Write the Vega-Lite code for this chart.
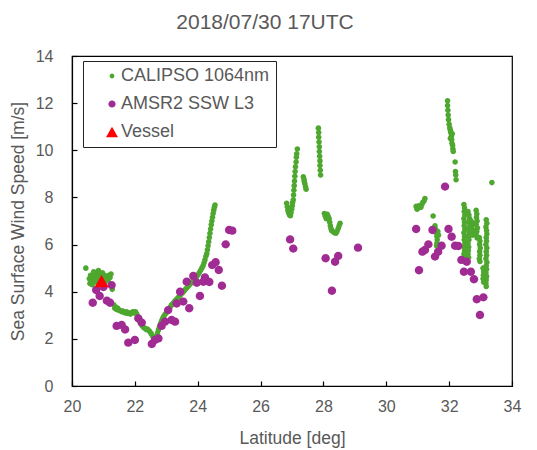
{
  "$schema": "https://vega.github.io/schema/vega-lite/v6.json",
  "width": 440,
  "height": 330,
  "autosize": {"type": "none"},
  "padding": {"left": 72, "top": 56, "right": 25, "bottom": 64},
  "background": "white",
  "title": {"text": "2018/07/30 17UTC", "fontSize": 21, "font": "Liberation Sans", "fontWeight": "normal", "color": "#595959", "frame": "bounds", "anchor": "middle", "offset": 15},
  "config": {
    "font": "Liberation Sans",
    "view": {"stroke": "#000", "strokeWidth": 1.2},
    "axis": {"grid": false, "labelFlush": false, "domainColor": "#000", "domainWidth": 1.2, "tickColor": "#000", "tickSize": -5, "tickWidth": 1.2, "labelFont": "Liberation Sans", "labelFontSize": 16, "labelColor": "#595959", "titleFont": "Liberation Sans", "titleFontSize": 17.5, "titleColor": "#595959", "titleFontWeight": "normal"},
    "legend": {"orient": "none", "legendX": 11, "legendY": 5, "strokeColor": "#222", "fillColor": "white", "padding": 6, "labelFont": "Liberation Sans", "labelFontSize": 18, "labelColor": "#595959", "rowPadding": 10, "symbolSize": 144, "symbolOffset": 14, "labelOffset": 0, "symbolStrokeWidth": 0}
  },
  "layer": [
    {
      "data": {"values": [
        {"x":20.44,"y":5.0},{"x":20.55,"y":4.55},{"x":20.57,"y":4.35},{"x":20.59,"y":4.7},{"x":20.62,"y":4.5},{"x":20.64,"y":4.3},{"x":20.67,"y":4.65},{"x":20.69,"y":4.85},{"x":20.72,"y":4.5},{"x":20.74,"y":4.7},{"x":20.77,"y":4.4},{"x":20.79,"y":4.8},{"x":20.82,"y":4.6},{"x":20.84,"y":4.9},{"x":20.87,"y":4.7},{"x":20.89,"y":4.45},{"x":20.92,"y":4.75},{"x":20.95,"y":4.6},{"x":20.97,"y":4.8},{"x":21.0,"y":4.5},{"x":21.03,"y":4.7},{"x":21.06,"y":4.55},{"x":21.09,"y":4.45},{"x":21.12,"y":4.65},{"x":21.15,"y":4.5},{"x":21.18,"y":4.7},{"x":21.21,"y":4.6},{"x":21.24,"y":4.75},{"x":21.28,"y":4.1},
        {"x":21.33,"y":3.45},{"x":21.36,"y":3.3},{"x":21.39,"y":3.35},{"x":21.42,"y":3.25},{"x":21.46,"y":3.3},{"x":21.5,"y":3.2},{"x":21.54,"y":3.2},{"x":21.58,"y":3.15},{"x":21.62,"y":3.18},{"x":21.66,"y":3.12},{"x":21.7,"y":3.1},{"x":21.74,"y":3.15},{"x":21.78,"y":3.08},{"x":21.82,"y":3.1},{"x":21.86,"y":3.05},{"x":21.9,"y":3.12},{"x":21.94,"y":3.15},{"x":21.98,"y":3.1},{"x":22.02,"y":3.15},{"x":22.06,"y":3.05},{"x":22.09,"y":2.92},{"x":22.12,"y":2.8},{"x":22.16,"y":2.72},{"x":22.2,"y":2.62},{"x":22.24,"y":2.55},{"x":22.28,"y":2.48},{"x":22.32,"y":2.45},{"x":22.36,"y":2.4},{"x":22.4,"y":2.42},{"x":22.44,"y":2.35},{"x":22.48,"y":2.3},{"x":22.52,"y":2.22},{"x":22.56,"y":2.12},{"x":22.6,"y":2.02},{"x":22.63,"y":1.95},{"x":22.66,"y":2.0},
        {"x":22.69,"y":2.12},{"x":22.72,"y":2.25},{"x":22.75,"y":2.38},{"x":22.78,"y":2.5},{"x":22.81,"y":2.62},{"x":22.84,"y":2.72},{"x":22.87,"y":2.82},{"x":22.9,"y":2.9},{"x":22.93,"y":2.98},{"x":22.97,"y":3.05},{"x":23.01,"y":3.12},{"x":23.05,"y":3.2},{"x":23.09,"y":3.28},{"x":23.13,"y":3.36},{"x":23.17,"y":3.44},{"x":23.21,"y":3.5},{"x":23.25,"y":3.56},{"x":23.29,"y":3.62},{"x":23.33,"y":3.68},{"x":23.37,"y":3.74},{"x":23.41,"y":3.8},{"x":23.45,"y":3.86},{"x":23.49,"y":3.92},{"x":23.53,"y":3.98},{"x":23.57,"y":4.04},{"x":23.61,"y":4.1},{"x":23.65,"y":4.16},{"x":23.69,"y":4.22},{"x":23.73,"y":4.28},{"x":23.77,"y":4.34},{"x":23.81,"y":4.4},{"x":23.85,"y":4.46},{"x":23.89,"y":4.52},{"x":23.93,"y":4.58},{"x":23.97,"y":4.65},{"x":24.01,"y":4.72},{"x":24.05,"y":4.8},{"x":24.09,"y":4.9},{"x":24.13,"y":5.0},{"x":24.17,"y":5.1},{"x":24.2,"y":5.22},{"x":24.23,"y":5.35},{"x":24.26,"y":5.5},{"x":24.29,"y":5.62},{"x":24.31,"y":5.78},{"x":24.33,"y":5.95},{"x":24.35,"y":6.12},{"x":24.37,"y":6.3},{"x":24.39,"y":6.48},{"x":24.41,"y":6.66},{"x":24.43,"y":6.84},{"x":24.45,"y":7.0},{"x":24.47,"y":7.16},{"x":24.49,"y":7.32},{"x":24.51,"y":7.46},{"x":24.53,"y":7.58},{"x":24.55,"y":7.68},
        {"x":26.83,"y":7.75},{"x":26.85,"y":7.6},{"x":26.87,"y":7.45},{"x":26.89,"y":7.35},{"x":26.92,"y":7.25},{"x":26.95,"y":7.22},{"x":26.97,"y":7.35},{"x":26.99,"y":7.5},{"x":27.01,"y":7.65},{"x":27.02,"y":7.78},
        {"x":27.04,"y":7.9},{"x":27.05,"y":8.1},{"x":27.06,"y":8.3},{"x":27.07,"y":8.5},{"x":27.08,"y":8.7},{"x":27.09,"y":8.9},{"x":27.1,"y":9.1},{"x":27.11,"y":9.3},{"x":27.13,"y":9.5},{"x":27.14,"y":9.7},{"x":27.15,"y":9.85},{"x":27.17,"y":10.05},
        {"x":27.36,"y":8.88},{"x":27.38,"y":8.78},{"x":27.39,"y":8.68},{"x":27.41,"y":8.58},{"x":27.43,"y":8.45},{"x":27.45,"y":8.35},
        {"x":27.84,"y":10.94},{"x":27.85,"y":10.75},{"x":27.85,"y":10.55},{"x":27.86,"y":10.35},{"x":27.87,"y":10.15},{"x":27.87,"y":9.95},{"x":27.88,"y":9.75},{"x":27.89,"y":9.55},{"x":27.89,"y":9.35},{"x":27.9,"y":9.15},{"x":27.91,"y":8.95},
        {"x":28.03,"y":7.32},{"x":28.06,"y":7.2},{"x":28.09,"y":7.1},{"x":28.12,"y":7.28},{"x":28.15,"y":7.2},{"x":28.18,"y":7.1},{"x":28.2,"y":6.95},{"x":28.22,"y":6.8},{"x":28.24,"y":6.68},{"x":28.26,"y":6.6},{"x":28.3,"y":6.55},{"x":28.35,"y":6.5},{"x":28.4,"y":6.48},{"x":28.43,"y":6.55},{"x":28.47,"y":6.68},{"x":28.5,"y":6.8},{"x":28.53,"y":6.9},
        {"x":30.95,"y":7.62},{"x":30.98,"y":7.5},{"x":31.01,"y":7.55},{"x":31.04,"y":7.65},{"x":31.07,"y":7.6},{"x":31.1,"y":7.58},{"x":31.13,"y":7.7},{"x":31.16,"y":7.78},{"x":31.2,"y":7.85},{"x":31.23,"y":7.95},
        {"x":31.49,"y":7.21},{"x":31.55,"y":6.8},{"x":31.57,"y":6.65},{"x":31.59,"y":6.5},{"x":31.61,"y":6.35},{"x":31.62,"y":6.2},{"x":31.61,"y":6.05},{"x":31.6,"y":5.95},{"x":31.64,"y":6.55},{"x":31.66,"y":6.4},
        {"x":31.95,"y":12.1},{"x":31.95,"y":11.9},{"x":31.96,"y":11.7},{"x":31.97,"y":11.5},{"x":31.98,"y":11.3},{"x":32.0,"y":11.1},{"x":32.02,"y":10.95},{"x":32.04,"y":10.85},{"x":32.05,"y":10.75},{"x":32.07,"y":10.6},{"x":32.08,"y":10.45},{"x":32.09,"y":10.3},{"x":32.11,"y":10.2},{"x":32.12,"y":10.05},{"x":32.13,"y":9.95},{"x":32.1,"y":10.7},{"x":32.04,"y":10.5},{"x":32.19,"y":9.5},{"x":32.2,"y":9.1},{"x":32.21,"y":8.95},{"x":32.22,"y":8.75},
        {"x":32.47,"y":7.7},{"x":32.49,"y":7.55},{"x":32.48,"y":7.4},{"x":32.5,"y":7.25},{"x":32.47,"y":7.1},{"x":32.49,"y":6.95},{"x":32.48,"y":6.8},{"x":32.5,"y":6.65},{"x":32.47,"y":6.5},{"x":32.49,"y":6.35},{"x":32.48,"y":6.2},{"x":32.5,"y":6.05},{"x":32.48,"y":5.9},{"x":32.49,"y":5.75},{"x":32.47,"y":5.6},{"x":32.49,"y":5.45},
        {"x":32.6,"y":7.4},{"x":32.63,"y":7.25},{"x":32.65,"y":7.1},{"x":32.62,"y":6.95},{"x":32.66,"y":6.8},{"x":32.6,"y":6.65},{"x":32.64,"y":6.5},{"x":32.61,"y":6.35},{"x":32.63,"y":6.2},{"x":32.6,"y":6.05},{"x":32.62,"y":5.9},{"x":32.61,"y":5.75},{"x":32.6,"y":5.6},{"x":32.62,"y":5.45},
        {"x":32.7,"y":7.0},{"x":32.74,"y":6.85},{"x":32.72,"y":6.7},{"x":32.77,"y":6.55},{"x":32.73,"y":6.4},{"x":32.8,"y":6.9},{"x":32.78,"y":6.6},
        {"x":32.86,"y":7.45},{"x":32.88,"y":7.3},{"x":32.87,"y":7.15},{"x":32.89,"y":7.0},{"x":32.86,"y":6.85},{"x":32.9,"y":6.7},{"x":32.88,"y":6.55},{"x":32.86,"y":6.4},{"x":32.89,"y":6.28},
        {"x":32.96,"y":6.3},{"x":32.98,"y":6.15},{"x":32.97,"y":6.0},{"x":32.99,"y":5.85},{"x":32.97,"y":5.7},{"x":32.98,"y":5.55},{"x":32.96,"y":5.4},{"x":32.98,"y":5.28},
        {"x":33.18,"y":7.05},{"x":33.2,"y":6.9},{"x":33.17,"y":6.75},{"x":33.19,"y":6.6},{"x":33.2,"y":6.45},{"x":33.18,"y":6.3},{"x":33.19,"y":6.15},{"x":33.17,"y":6.0},{"x":33.2,"y":5.85},{"x":33.18,"y":5.7},{"x":33.19,"y":5.55},{"x":33.17,"y":5.4},{"x":33.2,"y":5.25},{"x":33.18,"y":5.1},{"x":33.19,"y":4.95},{"x":33.17,"y":4.8},{"x":33.19,"y":4.65},{"x":33.18,"y":4.5},{"x":33.17,"y":4.35},{"x":33.18,"y":4.22},
        {"x":33.08,"y":5.0},{"x":33.1,"y":4.85},{"x":33.09,"y":4.7},{"x":33.08,"y":4.55},{"x":33.1,"y":4.4},
        {"x":33.36,"y":8.63}
      ]},
      "mark": {"type": "point", "filled": true, "opacity": 1, "size": 196, "strokeWidth": 0},
      "encoding": {
        "x": {"field": "x", "type": "quantitative", "scale": {"domain": [20, 34], "nice": false, "zero": false}, "axis": {"title": "Latitude [deg]", "values": [20, 22, 24, 26, 28, 30, 32, 34], "labelPadding": 17, "titlePadding": 15}},
        "y": {"field": "y", "type": "quantitative", "scale": {"domain": [0, 14], "nice": false}, "axis": {"title": "Sea Surface Wind Speed [m/s]", "values": [0, 2, 4, 6, 8, 10, 12, 14], "labelPadding": 24, "titlePadding": 8}},
        "color": {"datum": "CALIPSO 1064nm", "type": "nominal", "scale": {"domain": ["CALIPSO 1064nm", "AMSR2 SSW L3", "Vessel"], "range": ["#4EA72E", "#A02B93", "#FF0000"]}, "legend": {"title": null, "orient": "none", "legendX": 11, "legendY": 5}},
        "shape": {"datum": "CALIPSO 1064nm", "type": "nominal", "scale": {"domain": ["CALIPSO 1064nm", "AMSR2 SSW L3", "Vessel"], "range": ["M -0.4 0 A 0.4 0.4 0 1 1 0.4 0 A 0.4 0.4 0 1 1 -0.4 0 Z", "M -0.6 0 A 0.6 0.6 0 1 1 0.6 0 A 0.6 0.6 0 1 1 -0.6 0 Z", "M 0 -0.87 L 1 0.87 L -1 0.87 Z"]}, "legend": {"title": null, "orient": "none", "legendX": 11, "legendY": 5}}
      }
    },
    {
      "data": {"values": [
        {"x":20.66,"y":3.53},{"x":20.77,"y":4.07},{"x":20.88,"y":3.82},{"x":21.0,"y":4.2},{"x":21.11,"y":3.62},{"x":21.21,"y":3.53},{"x":21.26,"y":4.28},{"x":21.42,"y":2.55},{"x":21.58,"y":2.59},{"x":21.69,"y":2.4},{"x":21.79,"y":1.84},{"x":22.0,"y":1.95},{"x":22.11,"y":2.87},{"x":22.22,"y":2.69},{"x":22.54,"y":1.78},{"x":22.64,"y":1.95},{"x":22.75,"y":2.02},{"x":22.85,"y":2.55},{"x":22.96,"y":2.73},{"x":23.06,"y":3.22},{"x":23.17,"y":2.8},{"x":23.28,"y":2.73},{"x":23.33,"y":3.5},{"x":23.44,"y":4.0},{"x":23.54,"y":3.58},{"x":23.65,"y":4.42},{"x":23.73,"y":3.3},{"x":23.86,"y":4.67},{"x":23.97,"y":4.38},{"x":24.07,"y":3.82},{"x":24.18,"y":4.42},{"x":24.23,"y":4.61},{"x":24.37,"y":4.41},{"x":24.46,"y":5.13},{"x":24.57,"y":5.25},{"x":24.67,"y":4.92},{"x":24.77,"y":4.25},{"x":24.89,"y":6.01},{"x":25.0,"y":6.62},{"x":25.1,"y":6.59},
        {"x":26.94,"y":6.22},{"x":27.04,"y":5.83},{"x":28.07,"y":5.42},{"x":28.37,"y":5.27},{"x":28.47,"y":5.52},{"x":29.1,"y":5.87},{"x":28.27,"y":4.04},
        {"x":30.95,"y":6.66},{"x":31.04,"y":4.91},{"x":31.15,"y":5.7},{"x":31.23,"y":5.77},{"x":31.34,"y":6.01},{"x":31.47,"y":6.62},{"x":31.55,"y":5.49},{"x":31.65,"y":5.7},{"x":31.76,"y":5.95},{"x":31.87,"y":8.46},{"x":31.98,"y":6.66},{"x":32.08,"y":6.33},{"x":32.19,"y":5.95},{"x":32.29,"y":5.94},{"x":32.39,"y":5.35},{"x":32.56,"y":5.27},{"x":32.47,"y":4.85},{"x":32.69,"y":4.85},{"x":32.79,"y":4.53},{"x":32.88,"y":3.68},{"x":33.09,"y":3.76},{"x":32.98,"y":3.01}
      ]},
      "mark": {"type": "point", "filled": true, "opacity": 1, "size": 196, "strokeWidth": 0},
      "encoding": {
        "x": {"field": "x", "type": "quantitative"},
        "y": {"field": "y", "type": "quantitative"},
        "color": {"datum": "AMSR2 SSW L3", "type": "nominal"},
        "shape": {"datum": "AMSR2 SSW L3", "type": "nominal"}
      }
    },
    {
      "data": {"values": [{"x": 20.94, "y": 4.45}]},
      "mark": {"type": "point", "filled": true, "opacity": 1, "size": 196, "strokeWidth": 0},
      "encoding": {
        "x": {"field": "x", "type": "quantitative"},
        "y": {"field": "y", "type": "quantitative"},
        "color": {"datum": "Vessel", "type": "nominal"},
        "shape": {"datum": "Vessel", "type": "nominal"}
      }
    }
  ]
}
